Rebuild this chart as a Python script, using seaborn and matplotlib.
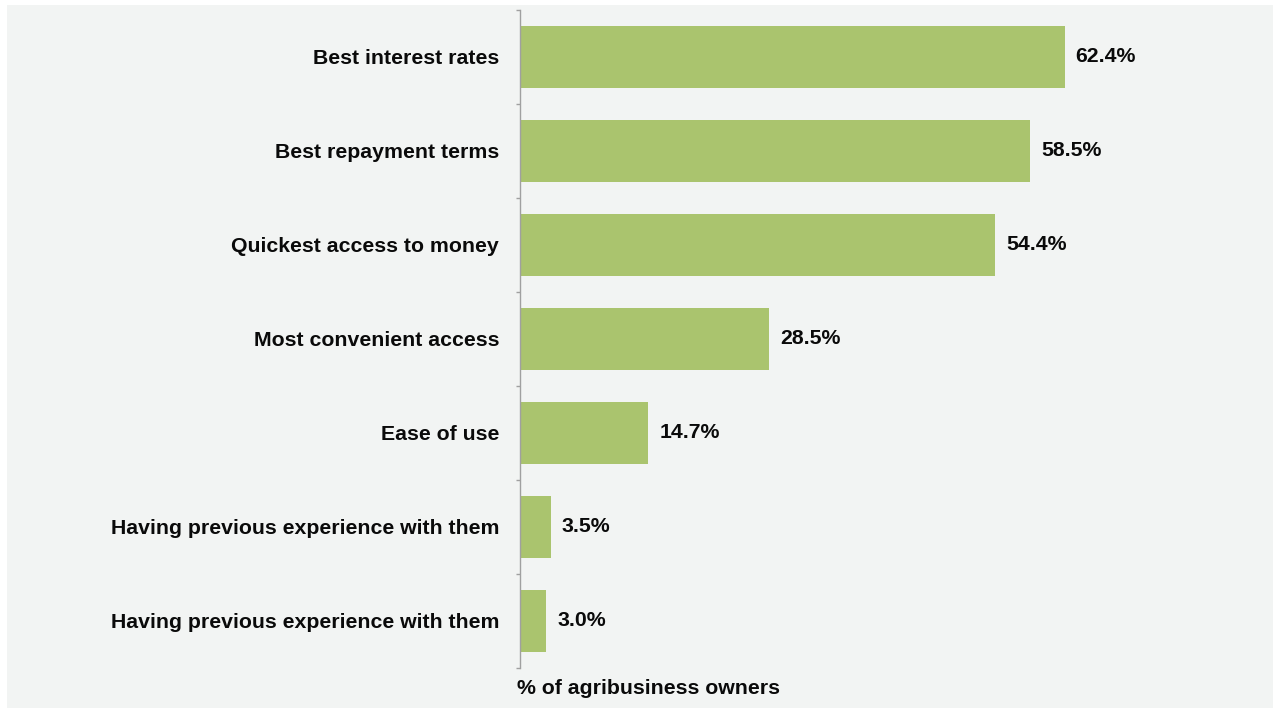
import matplotlib
matplotlib.use("Agg")
import matplotlib.pyplot as plt
import matplotlib.patches as mpatches
from matplotlib.ticker import FixedLocator, NullFormatter
import seaborn as sns
import pandas as pd

# Reasons for choosing a lender
reasons = [
    "Best interest rates",
    "Best repayment terms",
    "Quickest access to money",
    "Most convenient access",
    "Ease of use",
    "Having previous experience with them",
    "Having previous experience with them",
]
shares = [62.4, 58.5, 54.4, 28.5, 14.7, 3.5, 3.0]
axis_title = "% of agribusiness owners"

BAR = "#aac46e"
PANEL = "#f2f4f3"
INK = "#0a0a0a"
FS = 15.3
plt.rcParams["font.family"] = ["Liberation Sans", "DejaVu Sans"]

df = pd.DataFrame({"slot": [str(i) for i in range(len(reasons))],
                   "reason": reasons, "share": shares})

fig = plt.figure(figsize=(12.73, 7.08), dpi=100, facecolor="white")
fig.patches.append(mpatches.Rectangle((7 / 1273, 0), 1, 1 - 5 / 708,
                                      transform=fig.transFigure,
                                      facecolor=PANEL, edgecolor="none", zorder=-10))

ax = fig.add_axes([520 / 1273, 1 - 668 / 708, 740 / 1273, 658 / 708])
ax.set_facecolor("none")

sns.barplot(data=df, x="share", y="slot", orient="h", color=BAR,
            width=0.67, saturation=1, ax=ax, order=df["slot"])

ax.set_xlim(0, 84.8)
ax.set_ylim(len(reasons) - 0.5, -0.5)

ax.set_yticks(range(len(reasons)))
ax.set_yticklabels(reasons, fontsize=FS, fontweight="bold", color=INK)
ax.tick_params(axis="y", which="major", length=0, pad=15)
ax.yaxis.set_minor_locator(FixedLocator([i - 0.5 for i in range(len(reasons) + 1)]))
ax.yaxis.set_minor_formatter(NullFormatter())
ax.tick_params(axis="y", which="minor", length=3, width=1, color="#a0a0a0", direction="out")

ax.set_xticks([])
ax.set_xlabel("")
ax.set_ylabel("")
for side in ["top", "right", "bottom"]:
    ax.spines[side].set_visible(False)
ax.spines["left"].set_color("#a0a0a0")
ax.spines["left"].set_linewidth(1)

for container in ax.containers:
    ax.bar_label(container, labels=[f"{v:.1f}%" for v in shares], padding=8,
                 fontsize=FS, fontweight="bold", color=INK)

fig.text(517 / 1273, 1 - 689 / 708, axis_title, ha="left", va="center",
         fontsize=FS, fontweight="bold", color=INK)

fig.savefig("out.png", dpi=100, facecolor="white")
